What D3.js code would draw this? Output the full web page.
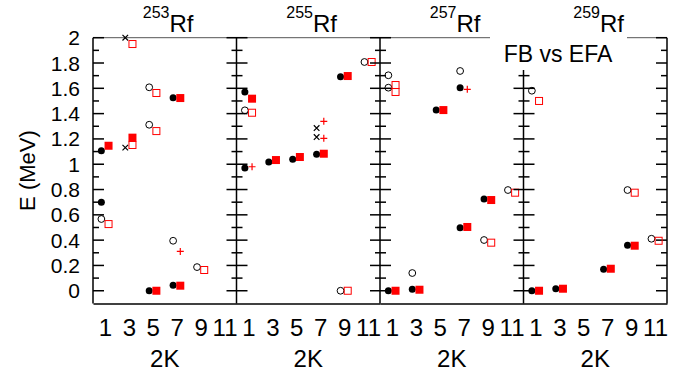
<!DOCTYPE html>
<html>
<head>
<meta charset="utf-8">
<script src="https://cdn.jsdelivr.net/npm/d3@7"></script>
<style>
  body { margin: 0; background: #fff; }
  text { font-family: "Liberation Sans", Arial, sans-serif; fill: #000; }
</style>
</head>
<body>
<div id="chart"></div>
<script>
// one entry per nucleus, each a list of [2K, E in MeV]
var nuclei = ["253", "255", "257", "259"];
var xTicks = [1, 3, 5, 7, 9, 11];
var yTicks = [0, 0.2, 0.4, 0.6, 0.8, 1, 1.2, 1.4, 1.6, 1.8, 2];

var fbFilled = [
    [[1, 1.107], [1, 0.699], [5, 0.0], [7, 0.043], [7, 1.526]],
    [[1, 1.571], [1, 0.97], [3, 1.017], [5, 1.039], [7, 1.078], [9, 1.692]],
    [[1, 0.0], [3, 0.011], [5, 1.428], [7, 1.605], [7, 0.498], [9, 0.725]],
    [[1, 0.0], [3, 0.016], [7, 0.169], [9, 0.359]]
];
var fbOpen = [
    [[1, 0.567], [5, 1.608], [5, 1.312], [7, 0.395], [9, 0.187]],
    [[1, 1.426], [9, 0.0], [11, 1.808]],
    [[1, 1.703], [1, 1.605], [3, 0.14], [7, 1.737], [9, 0.401], [11, 0.796]],
    [[1, 1.581], [9, 0.796], [11, 0.411]]
];
var fbCross = [
    [[3, 2.0], [3, 1.131]],
    [[7, 1.286], [7, 1.215]],
    [],
    []
];
var efaFilled = [
    [[1, 1.146], [3, 1.21], [5, 0.0], [7, 0.04], [7, 1.523]],
    [[1, 1.518], [3, 1.033], [5, 1.057], [7, 1.083], [9, 1.697]],
    [[1, 0.0], [3, 0.008], [5, 1.428], [7, 0.504], [9, 0.717]],
    [[1, 0.0], [3, 0.016], [7, 0.174], [9, 0.356]]
];
var efaOpen = [
    [[1, 0.527], [3, 1.95], [3, 1.152], [5, 1.563], [5, 1.262], [9, 0.164]],
    [[1, 1.407], [9, 0.0], [11, 1.808]],
    [[1, 1.626], [1, 1.571], [9, 0.38], [11, 0.775]],
    [[1, 1.5], [9, 0.775], [11, 0.395]]
];
var efaPlus = [
    [[7, 0.311]],
    [[1, 0.98], [7, 1.339], [7, 1.205]],
    [[7, 1.592]],
    []
];

var width = 685, height = 375;
var plotLeft = 93, panelW = 143.5, plotTop = 37.7, plotBottom = 303.4;
var shift = 0.3; // FB drawn left of the 2K value, EFA right

var svg = d3.select("#chart").append("svg")
    .attr("width", width)
    .attr("height", height);

var y = d3.scaleLinear().domain([-0.1, 2]).range([plotBottom, plotTop]);
var minorTicks = d3.range(0, 21).map(function(d) { return d / 10; });

// y tick labels, left side only
svg.append("g").selectAll("text")
    .data(yTicks)
    .enter().append("text")
    .attr("x", 80)
    .attr("y", function(d) { return y(d); })
    .attr("dy", "0.36em")
    .attr("text-anchor", "end")
    .style("font-size", "21px")
    .text(function(d) { return d; });

svg.append("text")
    .attr("transform", "translate(27," + (plotTop + plotBottom) / 2 + ") rotate(-90)")
    .attr("text-anchor", "middle")
    .attr("dy", "0.36em")
    .style("font-size", "22px")
    .text("E (MeV)");

nuclei.forEach(function(nuc, i) {
    var x0 = plotLeft + i * panelW;
    var x = d3.scaleLinear().domain([0, 12]).range([x0, x0 + panelW]);
    var g = svg.append("g");

    // top border
    g.append("line")
        .attr("x1", x0).attr("x2", x0 + panelW)
        .attr("y1", plotTop).attr("y2", plotTop)
        .attr("stroke", "#555").attr("stroke-width", 1);

    // left border with ticks
    g.append("line")
        .attr("x1", x0).attr("x2", x0)
        .attr("y1", plotTop).attr("y2", plotBottom)
        .attr("stroke", "#000").attr("stroke-width", 1.5);
    g.selectAll(".tl")
        .data(minorTicks)
        .enter().append("line")
        .attr("x1", function(d) { return i == 0 ? x0 : x0 - (Math.round(d * 10) % 2 ? 5 : 10); })
        .attr("x2", function(d) { return x0 + (Math.round(d * 10) % 2 ? 6 : 11); })
        .attr("y1", function(d) { return y(d); })
        .attr("y2", function(d) { return y(d); })
        .attr("stroke", "#000").attr("stroke-width", 1.5);

    if (i == nuclei.length - 1) {
        var xr = x0 + panelW;
        g.append("line")
            .attr("x1", xr).attr("x2", xr)
            .attr("y1", plotTop).attr("y2", plotBottom)
            .attr("stroke", "#000").attr("stroke-width", 1.5);
        g.selectAll(".tr")
            .data(minorTicks)
            .enter().append("line")
            .attr("x1", function(d) { return xr - (Math.round(d * 10) % 2 ? 6 : 11); })
            .attr("x2", xr)
            .attr("y1", function(d) { return y(d); })
            .attr("y2", function(d) { return y(d); })
            .attr("stroke", "#000").attr("stroke-width", 1.5);
    }

    // bottom axis, labels only
    var xAxis = d3.axisBottom(x).tickValues(xTicks).tickSize(0).tickPadding(16);
    var ax = g.append("g")
        .attr("transform", "translate(0," + plotBottom + ")")
        .call(xAxis);
    ax.select(".domain").attr("stroke", "#000").attr("stroke-width", 1.5);
    ax.selectAll("text").style("font-size", "24px")
        .style("font-family", "'Liberation Sans', Arial, sans-serif");

    g.append("text")
        .attr("x", x(6))
        .attr("y", 367)
        .attr("text-anchor", "middle")
        .style("font-size", "24px")
        .text("2K");

    // markers
    g.selectAll(".fbf").data(fbFilled[i]).enter().append("circle")
        .attr("cx", function(d) { return x(d[0] - shift); })
        .attr("cy", function(d) { return y(d[1]); })
        .attr("r", 3.5).attr("fill", "#000");

    g.selectAll(".fbo").data(fbOpen[i]).enter().append("circle")
        .attr("cx", function(d) { return x(d[0] - shift); })
        .attr("cy", function(d) { return y(d[1]); })
        .attr("r", 3.4).attr("fill", "none")
        .attr("stroke", "#000").attr("stroke-width", 1);

    g.selectAll(".fbx").data(fbCross[i]).enter().append("path")
        .attr("transform", function(d) { return "translate(" + x(d[0] - shift) + "," + y(d[1]) + ")"; })
        .attr("d", "M-2.8,-2.8L2.8,2.8M-2.8,2.8L2.8,-2.8")
        .attr("stroke", "#000").attr("stroke-width", 1.2);

    g.selectAll(".efaf").data(efaFilled[i]).enter().append("rect")
        .attr("x", function(d) { return x(d[0] + shift) - 4; })
        .attr("y", function(d) { return y(d[1]) - 4; })
        .attr("width", 8).attr("height", 8)
        .attr("fill", "#f00");

    g.selectAll(".efao").data(efaOpen[i]).enter().append("rect")
        .attr("x", function(d) { return x(d[0] + shift) - 3.5; })
        .attr("y", function(d) { return y(d[1]) - 3.5; })
        .attr("width", 7).attr("height", 7)
        .attr("fill", "none")
        .attr("stroke", "#f00").attr("stroke-width", 1);

    g.selectAll(".efap").data(efaPlus[i]).enter().append("path")
        .attr("transform", function(d) { return "translate(" + x(d[0] + shift) + "," + y(d[1]) + ")"; })
        .attr("d", "M-3.5,0L3.5,0M0,-3.5L0,3.5")
        .attr("stroke", "#f00").attr("stroke-width", 1.2);
});

// key box sits over the top of panels 3 and 4
svg.append("rect")
    .attr("x", 490).attr("y", 33)
    .attr("width", 137).attr("height", 37)
    .attr("fill", "#fff");
svg.append("text")
    .attr("x", 558)
    .attr("y", 62)
    .attr("text-anchor", "middle")
    .style("font-size", "23px")
    .text("FB vs EFA");

// panel titles
nuclei.forEach(function(nuc, i) {
    var cx = plotLeft + i * panelW + panelW / 2;
    var t = svg.append("text")
        .attr("x", cx - 22)
        .attr("y", 32);
    t.append("tspan")
        .attr("dy", "-14")
        .style("font-size", "16px")
        .text(nuc);
    t.append("tspan")
        .attr("dy", "14")
        .style("font-size", "24px")
        .text("Rf");
});
</script>
</body>
</html>
